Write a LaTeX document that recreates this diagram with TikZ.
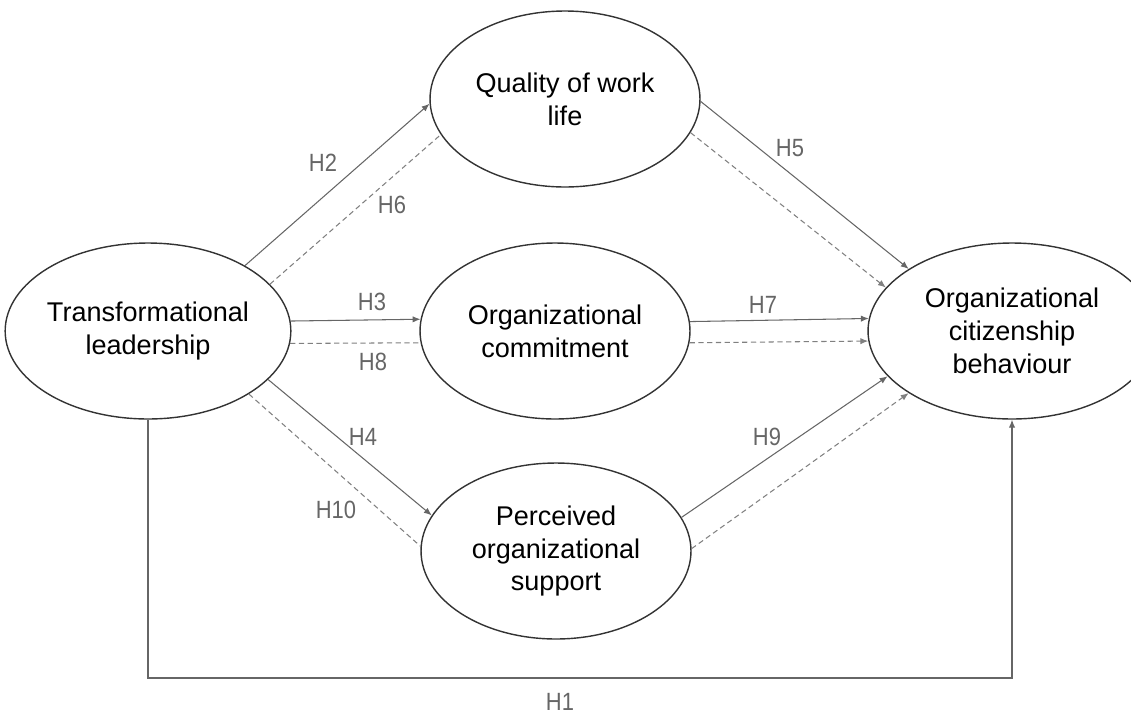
\documentclass[tikz,border=0pt]{standalone}
\usepackage{fontspec}
\setmainfont{Liberation Sans}
\usetikzlibrary{shapes.geometric, arrows.meta}
\newcommand{\hlabel}[1]{\scalebox{0.88}[1]{#1}}

\begin{document}
\begin{tikzpicture}[x=0.02cm, y=-0.02cm,
		construct/.style={ellipse, draw=black!80, line width=0.8pt, minimum width=5.4cm, minimum height=3.52cm, inner sep=0pt, align=center, font=\fontsize{15.4}{18.7}\selectfont},
		hyp/.style={draw=black!60, line width=0.6pt, -{Latex[length=4.5pt, width=3.6pt]}},
		med/.style={draw=black!50, line width=0.6pt, dash pattern=on 3pt off 2pt},
		medarr/.style={med, -{Latex[length=4.5pt, width=3.6pt]}},
		lbl/.style={text=black!60, font=\fontsize{14.2}{16}\selectfont}]
		\clip (0,0) rectangle (1131,714);
		\node[construct] (tl) at (148,331) {Transformational\\leadership};
		\node[construct] (qwl) at (565,99) {Quality of work\\life};
		\node[construct] (oc) at (555,331) {Organizational\\commitment};
		\node[construct] (pos) at (556,551) {Perceived\\organizational\\support};
		\node[construct, minimum width=5.76cm] (ocb) at (1012,331) {Organizational\\citizenship\\behaviour};
		\draw[hyp] (tl.34) -- (qwl.182);
		\draw[med] (tl.21.5) -- (qwl.196);
		\draw[hyp] (tl.4.7) -- (oc.175.3);
		\draw[med] (tl.-5.1) -- (oc.185.1);
		\draw[hyp] (tl.-22.2) -- (pos.164);
		\draw[med] (tl.-32) -- (pos.178.3);
		\draw[hyp] (qwl.-1) -- (ocb.149);
		\draw[medarr] (qwl.-15) -- (ocb.161);
		\draw[hyp] (oc.4.7) -- (ocb.175.6);
		\draw[medarr] (oc.-5.1) -- (ocb.184.8);
		\draw[hyp] (pos.15.8) -- (ocb.200);
		\draw[medarr] (pos.1.3) -- (ocb.211);
		\coordinate (h1base) at (0,678);
		\draw[hyp] (tl.south) -- (tl.south |- h1base) -| (ocb.south);
		\node[lbl] (h1) at (560,702) {\hlabel{H1}};
		\node[lbl] (h2) at (323,163) {\hlabel{H2}};
		\node[lbl] (h3) at (372,302) {\hlabel{H3}};
		\node[lbl] (h4) at (363,437) {\hlabel{H4}};
		\node[lbl] (h5) at (790,148) {\hlabel{H5}};
		\node[lbl] (h6) at (392,205) {\hlabel{H6}};
		\node[lbl] (h7) at (763,305) {\hlabel{H7}};
		\node[lbl] (h8) at (373,362) {\hlabel{H8}};
		\node[lbl] (h9) at (767,437) {\hlabel{H9}};
		\node[lbl] (h10) at (336,510) {\hlabel{H10}};
	\end{tikzpicture}
\end{document}
